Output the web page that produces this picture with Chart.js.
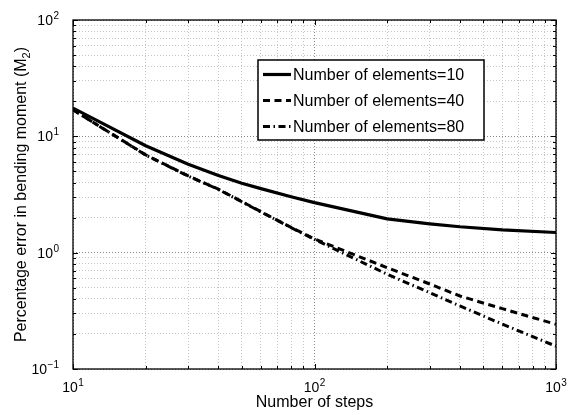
<!DOCTYPE html>
<html>
<head>
<meta charset="utf-8">
<script src="https://cdn.jsdelivr.net/npm/chart.js@4.4.1/dist/chart.umd.min.js"></script>
<style>
	html, body { margin: 0; padding: 0; background: #fff; }
	#wrap { width: 569px; height: 415px; }
</style>
</head>
<body>
<div id="wrap"><canvas id="err-chart" width="569" height="415"></canvas></div>
<script>
// time steps used in the runs
const steps = [10, 20, 30, 40, 50, 60, 80, 100, 200, 300, 400, 600, 1000];

// percentage error in M2 for each mesh
const err10 = [17.5, 8.3, 5.75, 4.6, 3.95, 3.55, 3.02, 2.69, 1.95, 1.77, 1.67, 1.57, 1.49];
const err40 = [16.9, 6.93, 4.57, 3.51, 2.75, 2.25, 1.65, 1.31, 0.743, 0.538, 0.424, 0.33, 0.242];
const err80 = [16.9, 6.9, 4.55, 3.5, 2.74, 2.24, 1.64, 1.3, 0.652, 0.453, 0.348, 0.243, 0.157];

const seriesNames = ["Number of elements=10", "Number of elements=40", "Number of elements=80"];

// decade tick labels
const xDecades = [10, 100, 1000];
const yDecades = [0.1, 1, 10, 100];

const xTitle = "Number of steps";
const yTitle = ["Percentage error in bending moment (M", "2", ")"];

const FONT = '"Liberation Sans", Arial, Helvetica, sans-serif';

function logTicks(decades){
	let out = [];
	for(let i=0; i<decades.length-1; i++){
		for(let m=1; m<10; m++) out.push(m*decades[i]);
	}
	out.push(decades[decades.length-1]);
	return out;
}

function isMajor(v){
	let l = Math.log10(v);
	return Math.abs(l - Math.round(l)) < 1e-9;
}

const xTicks = logTicks(xDecades);
const yTicks = logTicks(yDecades);

function gridColor(c){
	return (c.tick && isMajor(c.tick.value)) ? "#8a8a8a" : "#c4c4c4";
}

// "10" with a raised exponent
function powerLabel(ctx, v, x, y, align){
	let exp = Math.round(Math.log10(v));
	let expTxt = exp < 0 ? "\u2212" + (-exp) : String(exp);
	ctx.font = "14px " + FONT;
	let wBase = ctx.measureText("10").width;
	ctx.font = "10px " + FONT;
	let wExp = ctx.measureText(expTxt).width;
	let total = wBase + wExp + 0.5;
	let x0 = align === "right" ? x - total : x - total/2;
	ctx.textAlign = "left";
	ctx.textBaseline = "alphabetic";
	ctx.font = "14px " + FONT;
	ctx.fillText("10", x0, y);
	ctx.font = "10px " + FONT;
	ctx.fillText(expTxt, x0 + wBase + 0.5, y - 6);
}

const decorPlugin = {
	id: "decor",
	afterDraw(chart){
		const ctx = chart.ctx;
		const a = chart.chartArea;
		const xs = chart.scales.x, ys = chart.scales.y;
		ctx.save();
		ctx.strokeStyle = "#000";

		// inward tick marks on all four sides
		ctx.lineWidth = 1;
		ctx.beginPath();
		xTicks.forEach(v => {
			let px = Math.round(xs.getPixelForValue(v)) + 0.5;
			let len = isMajor(v) ? 5 : 3;
			ctx.moveTo(px, a.bottom); ctx.lineTo(px, a.bottom - len);
			ctx.moveTo(px, a.top); ctx.lineTo(px, a.top + len);
		});
		yTicks.forEach(v => {
			let py = Math.round(ys.getPixelForValue(v)) + 0.5;
			let len = isMajor(v) ? 5 : 3;
			ctx.moveTo(a.left, py); ctx.lineTo(a.left + len, py);
			ctx.moveTo(a.right, py); ctx.lineTo(a.right - len, py);
		});
		ctx.stroke();

		// axes box
		ctx.lineWidth = 1.3;
		ctx.strokeRect(a.left, a.top, a.right - a.left, a.bottom - a.top);
		ctx.restore();
	}
};

const labelPlugin = {
	id: "labels",
	afterDraw(chart){
		const ctx = chart.ctx;
		const a = chart.chartArea;
		const xs = chart.scales.x, ys = chart.scales.y;
		ctx.save();
		ctx.fillStyle = "#000";

		xDecades.forEach(v => powerLabel(ctx, v, xs.getPixelForValue(v), a.bottom + 23, "center"));
		yDecades.forEach(v => powerLabel(ctx, v, 59, ys.getPixelForValue(v) + 5, "right"));

		// x title
		ctx.font = "16px " + FONT;
		ctx.textAlign = "center";
		ctx.textBaseline = "alphabetic";
		ctx.fillText(xTitle, (a.left + a.right)/2, a.bottom + 38);

		// y title, rotated, with subscript
		ctx.font = "16px " + FONT;
		let w0 = ctx.measureText(yTitle[0]).width;
		let w2 = ctx.measureText(yTitle[2]).width;
		ctx.font = "11px " + FONT;
		let w1 = ctx.measureText(yTitle[1]).width;
		let total = w0 + w1 + w2;
		ctx.translate(26, (a.top + a.bottom)/2);
		ctx.rotate(-Math.PI/2);
		ctx.textAlign = "left";
		let sx = -total/2;
		ctx.font = "16px " + FONT;
		ctx.fillText(yTitle[0], sx, 0);
		ctx.font = "11px " + FONT;
		ctx.fillText(yTitle[1], sx + w0, 4);
		ctx.font = "16px " + FONT;
		ctx.fillText(yTitle[2], sx + w0 + w1, 0);
		ctx.restore();

		// legend box
		ctx.save();
		let lx = 258, ly = 60, lw = 226, lh = 80;
		ctx.fillStyle = "#fff";
		ctx.fillRect(lx, ly, lw, lh);
		ctx.strokeStyle = "#000";
		ctx.lineWidth = 1.5;
		ctx.strokeRect(lx, ly, lw, lh);
		chart.data.datasets.forEach((ds, i) => {
			let yy = ly + 14.5 + i*26;
			ctx.beginPath();
			ctx.setLineDash(ds.borderDash || []);
			ctx.lineWidth = ds.borderWidth;
			ctx.strokeStyle = ds.borderColor;
			ctx.moveTo(lx + 5, yy);
			ctx.lineTo(lx + 33, yy);
			ctx.stroke();
			ctx.setLineDash([]);
			ctx.fillStyle = "#000";
			ctx.font = "16px " + FONT;
			ctx.textAlign = "left";
			ctx.textBaseline = "middle";
			ctx.fillText(ds.label, lx + 35, yy + 1);
		});
		ctx.restore();
	}
};

function axis(min, max, ticks){
	return {
		type: "logarithmic",
		min: min,
		max: max,
		afterBuildTicks: s => { s.ticks = ticks.map(v => ({value: v})); },
		ticks: { display: false },
		grid: { color: gridColor, lineWidth: 1, drawTicks: false },
		border: { display: false, dash: [1, 2] }
	};
}

new Chart(document.getElementById("err-chart").getContext("2d"), {
	type: "line",
	data: {
		labels: steps,
		datasets: [{
			label: seriesNames[0],
			data: steps.map((s, i) => ({x: s, y: err10[i]})),
			borderColor: "#000",
			borderWidth: 3.2,
			borderDash: []
		},{
			label: seriesNames[1],
			data: steps.map((s, i) => ({x: s, y: err40[i]})),
			borderColor: "#000",
			borderWidth: 3,
			borderDash: [7, 4.5]
		},{
			label: seriesNames[2],
			data: steps.map((s, i) => ({x: s, y: err80[i]})),
			borderColor: "#000",
			borderWidth: 3,
			borderDash: [7, 3.5, 1.5, 3.5]
		}]
	},
	options: {
		responsive: false,
		animation: false,
		devicePixelRatio: 1,
		layout: { padding: { left: 73, right: 13, top: 20, bottom: 46 } },
		elements: {
			point: { radius: 0 },
			line: { tension: 0, fill: false, borderJoinStyle: "round" }
		},
		scales: {
			x: axis(10, 1000, xTicks),
			y: axis(0.1, 100, yTicks)
		},
		plugins: {
			legend: { display: false },
			tooltip: { enabled: false }
		}
	},
	plugins: [decorPlugin, labelPlugin]
});
</script>
</body>
</html>
